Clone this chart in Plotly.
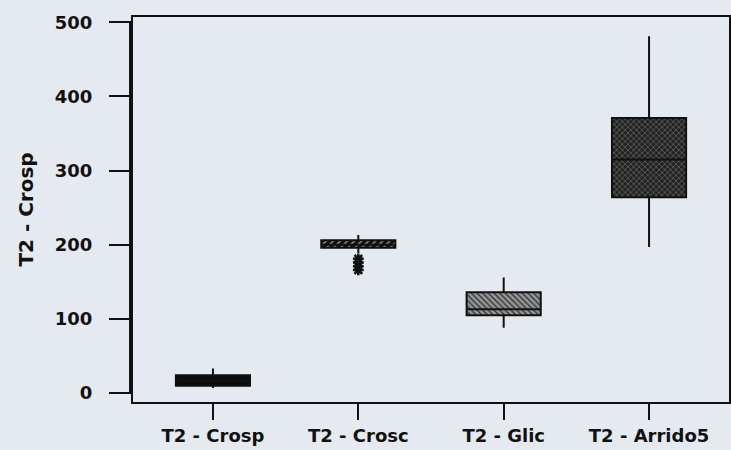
import plotly.graph_objects as go

# Summary statistics per group (T2 - Crosp scale)
categories = ["T2 - Crosp", "T2 - Crosc", "T2 - Glic", "T2 - Arrido5"]
lower_whisker = [7, 189, 88, 197]
q1_values = [10, 196, 105, 264]
median_values = [17, 200, 113, 315]
q3_values = [24, 206, 136, 371]
upper_whisker = [33, 213, 156, 481]

# Extreme values plotted individually for T2 - Crosc
outlier_category = ["T2 - Crosc", "T2 - Crosc", "T2 - Crosc", "T2 - Crosc"]
outlier_values = [166, 171, 176, 181]

# Fill styles for each box
fill_bg = ["#0c0c0c", "#111111", "#969696", "#222222"]
fill_fg = ["#0c0c0c", "#9a9a9a", "#2b2b2b", "#6e6e6e"]
fill_shape = ["", "/", "\\", "x"]
fill_size = [5, 5, 4, 4]

BG = "#e5eaf0"
INK = "#111111"
BOX_W = 0.51
FONT = "DejaVu Sans, Verdana, sans-serif"

fig = go.Figure()

# Patterned box bodies
for i, cat in enumerate(categories):
    fig.add_trace(go.Bar(
        x=[cat], base=[q1_values[i]], y=[q3_values[i] - q1_values[i]],
        width=BOX_W,
        marker=dict(
            color=fill_bg[i],
            line=dict(width=0),
            pattern=dict(shape=fill_shape[i], bgcolor=fill_bg[i],
                         fgcolor=fill_fg[i], size=fill_size[i],
                         solidity=0.3, fillmode="replace"),
        ),
        showlegend=False, hoverinfo="skip",
    ))

# Outlines, medians and whiskers
fig.add_trace(go.Box(
    x=categories,
    q1=q1_values, median=median_values, q3=q3_values,
    lowerfence=lower_whisker, upperfence=upper_whisker,
    width=BOX_W, whiskerwidth=0,
    fillcolor="rgba(0,0,0,0)",
    line=dict(color=INK, width=2),
    boxpoints=False, showlegend=False,
))

# Outlying observations
fig.add_trace(go.Scatter(
    x=outlier_category, y=outlier_values, mode="markers",
    marker=dict(symbol="asterisk-open", size=9, color=INK,
                line=dict(color=INK, width=2.5)),
    showlegend=False,
))

# Separate vertical axis line carrying the y ticks
fig.add_shape(type="line", xref="paper", yref="y",
              x0=-0.005, x1=-0.005, y0=0, y1=500,
              line=dict(color=INK, width=2))

fig.add_annotation(
    text="<b>T2 - Crosp</b>", textangle=-90, showarrow=False,
    xref="paper", yref="paper", x=-0.181, y=0.5,
    xanchor="center", yanchor="middle",
    font=dict(family=FONT, size=20, color=INK),
)

fig.update_layout(
    width=731, height=450,
    margin=dict(l=133, r=0, t=17, b=48),
    paper_bgcolor=BG, plot_bgcolor=BG,
    barmode="overlay",
    font=dict(family=FONT, color=INK),
)
fig.update_xaxes(
    type="category", categoryorder="array", categoryarray=categories,
    range=[-0.55, 3.55],
    showline=True, linecolor=INK, linewidth=2, mirror=True,
    ticks="outside", ticklen=16, tickwidth=2, tickcolor=INK,
    tickfont=dict(family=FONT, size=18, weight="bold", color=INK),
    showgrid=False, zeroline=False,
)
fig.update_yaxes(
    range=[-12, 507],
    tickvals=[0, 100, 200, 300, 400, 500],
    showline=True, linecolor=INK, linewidth=2, mirror=True,
    ticks="outside", ticklen=22, tickwidth=2, tickcolor=INK,
    ticklabelstandoff=13,
    tickfont=dict(family=FONT, size=18, weight="bold", color=INK),
    showgrid=False, zeroline=False,
)

fig.write_html("out.html")
